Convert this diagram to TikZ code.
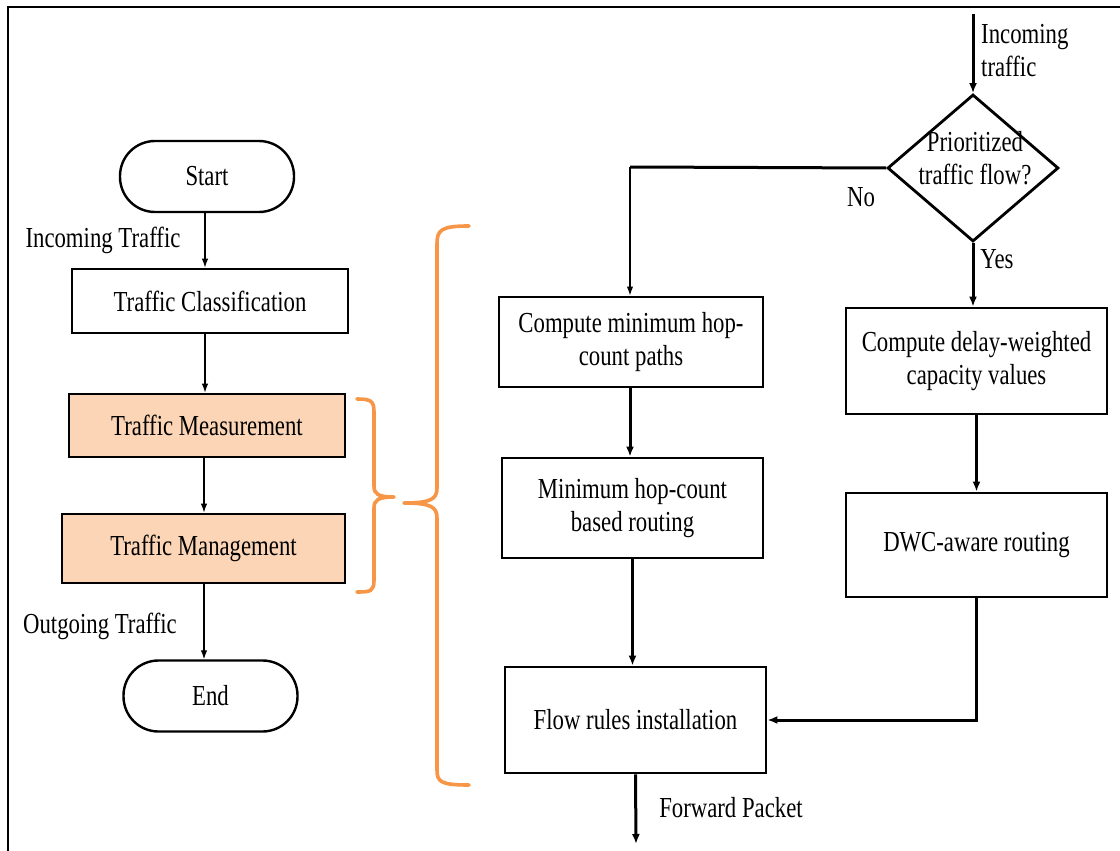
\documentclass[tikz,border=0pt]{standalone}
\usepackage{fontspec}
\setmainfont{Liberation Serif}[FakeStretch=0.785]
\usetikzlibrary{arrows.meta,shapes.geometric}
\definecolor{peach}{HTML}{FBD5B5}
\definecolor{braceorange}{HTML}{F79646}

\begin{document}
\begin{tikzpicture}[x=1pt,y=-1pt,
  every node/.style={font=\fontsize{29}{33}\selectfont, inner sep=0pt},
  terminal/.style={draw, line width=2.4pt, rounded corners=35pt, minimum width=174pt, minimum height=71pt},
  leftbox/.style={draw, line width=2.6pt, rectangle, align=center},
  rightbox/.style={draw, line width=2.8pt, rectangle, align=center},
  decision/.style={draw, line width=2.8pt, diamond, minimum width=171pt, minimum height=147pt},
  lbl/.style={align=left},
  thinarrow/.style={line width=1.3pt, -{Latex[length=9pt,width=6.5pt]}},
  heavyline/.style={line width=3pt},
  heavyarrow/.style={line width=3pt, -{Latex[length=10pt,width=8pt]}},
  bracestyle/.style={draw=braceorange, line width=3.6pt, line cap=round, line join=round},
]
\useasboundingbox (0,0) rectangle (1120,851);
\clip (0,0) rectangle (1120,851);
\fill[white] (0,0) rectangle (1120,851);

% outer frame
\draw[line width=2pt] (7.5,870) -- (7.5,7.5) -- (1140,7.5);

% ---------- left column ----------
\node[terminal] (start) at (207,176.5) {Start};
\node[leftbox, minimum width=276pt, minimum height=64pt] (cls) at (210,301) {Traffic Classification};
\node[leftbox, fill=peach, minimum width=276pt, minimum height=63pt] (meas) at (207,425.5) {Traffic Measurement};
\node[leftbox, fill=peach, minimum width=283pt, minimum height=69pt] (mgmt) at (203.5,548.5) {Traffic Management};
\node[terminal] (end) at (210.5,696) {End};

\node (inlbl) at (103,240) {Incoming Traffic};
\node (outlbl) at (100,626) {Outgoing Traffic};

\draw[thinarrow] ([xshift=-2pt]start.south) -- ([xshift=-2pt]start.south |- cls.north);
\draw[thinarrow] ([xshift=-5pt]cls.south) -- ([xshift=-5pt]cls.south |- meas.north);
\draw[thinarrow] ([xshift=-3pt]meas.south) -- ([xshift=-3pt]meas.south |- mgmt.north);
\draw[thinarrow] ([xshift=0.5pt]mgmt.south) -- ([xshift=0.5pt]mgmt.south |- end.north);

% ---------- braces ----------
\draw[bracestyle] (357,399) .. controls (371,399) and (374,401) .. (374,412)
  -- (374,486) .. controls (374,494) and (378,497) .. (394,497)
  .. controls (378,497) and (374,500) .. (374,508)
  -- (374,580) .. controls (374,591) and (371,592) .. (357,592);
\draw[bracestyle] (469,226) .. controls (441,226) and (437,230) .. (437,244)
  -- (437,488) .. controls (437,499) and (431,503) .. (404,503)
  .. controls (431,503) and (437,507) .. (437,518)
  -- (437,770) .. controls (437,782) and (441,785) .. (469,785);

% ---------- right part ----------
\node[decision] (dec) at (973,168) {};
\node[align=center] (dectext) at (975,158) {Prioritized\\traffic flow?};

\node[rightbox, minimum width=264pt, minimum height=90pt] (hop1) at (631,342) {Compute minimum hop-\\count paths};
\node[rightbox, minimum width=261pt, minimum height=100pt] (hop2) at (632.5,508) {Minimum hop-count\\based routing};
\node[rightbox, minimum width=261pt, minimum height=106pt] (flow) at (635.5,720) {Flow rules installation};
\node[rightbox, minimum width=261pt, minimum height=106pt] (dwc1) at (976.5,361) {Compute delay-weighted\\capacity values};
\node[rightbox, minimum width=261pt, minimum height=104pt] (dwc2) at (976.5,545) {DWC-aware routing};

\node[lbl, anchor=west] (intext) at (981,51) {Incoming\\traffic};
\node (nolbl) at (861,197) {No};
\node (yeslbl) at (997,259) {Yes};
\node (fwdlbl) at (731,808) {Forward Packet};

\coordinate (incoming) at (973,14);
\coordinate (nocorner) at (630,167);
\coordinate (fwdend) at (636,844);

\draw[heavyarrow] (incoming) -- (dec.north);
\draw[heavyline] (dec.west) -- (nocorner);
\draw[thinarrow] (nocorner) -- (nocorner |- hop1.north);
\draw[heavyarrow] (dec.south) -- (dec.south |- dwc1.north);
\draw[heavyarrow] ([xshift=-1pt]hop1.south) -- ([xshift=-1pt]hop1.south |- hop2.north);
\draw[heavyarrow] (hop2.south) -- (hop2.south |- flow.north);
\draw[heavyarrow] (dwc1.south) -- (dwc1.south |- dwc2.north);
\draw[heavyarrow] (dwc2.south) -- (dwc2.south |- flow.east) -- (flow.east);
\draw[heavyarrow] (flow.south) -- (fwdend);
\end{tikzpicture}
\end{document}
